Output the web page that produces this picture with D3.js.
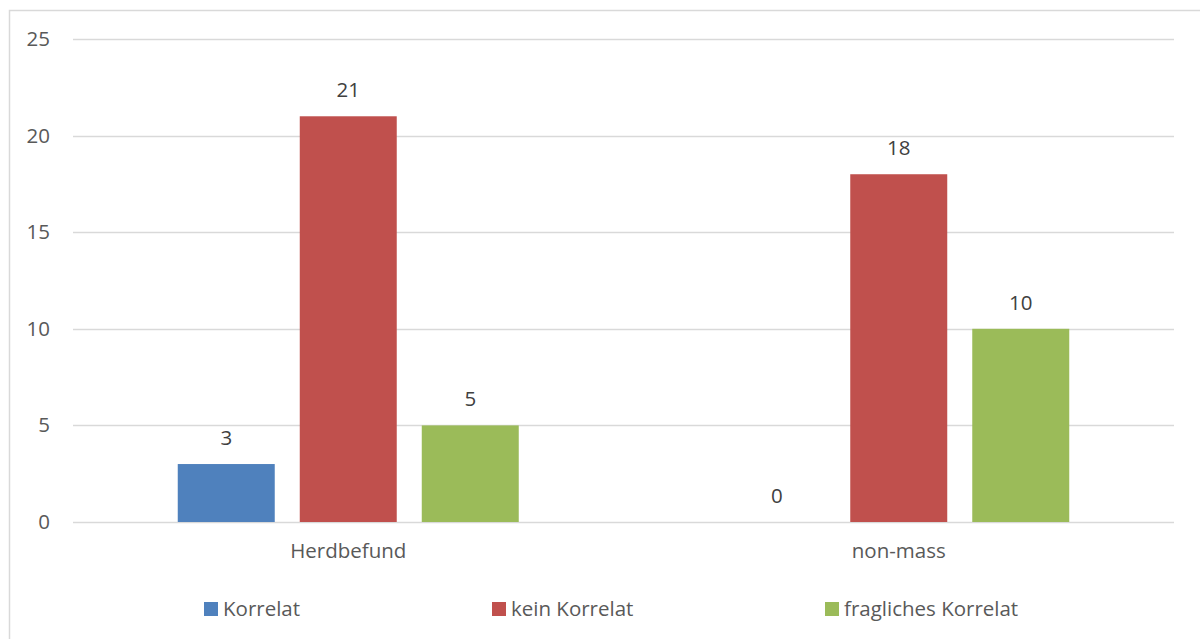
<!DOCTYPE html>
<html><head><meta charset="utf-8">
<script src="https://cdn.jsdelivr.net/npm/d3@7"></script>
<style>body{margin:0;background:#fff}svg{display:block}</style>
</head><body>
<svg id="c" width="1200" height="639"></svg>
<script>
const categories = ["Herdbefund", "non-mass"];
const seriesNames = ["Korrelat", "kein Korrelat", "fragliches Korrelat"];
const seriesColors = ["#4f81bd", "#c0504d", "#9bbb59"];
const korrelat = [3, 0];
const keinKorrelat = [21, 18];
const fraglichesKorrelat = [5, 10];
const yTicks = [0, 5, 10, 15, 20, 25];

(function() {
const values = [korrelat, keinKorrelat, fraglichesKorrelat];
const svg = d3.select("#c");
const font = "'Open Sans', sans-serif";
const fs = 20.5;
const txt = "#595959";

svg.append("rect").attr("x", 9.5).attr("y", 10.5).attr("width", 1200).attr("height", 640)
  .attr("fill", "#fff").attr("stroke", "#d9d9d9").attr("stroke-width", 1.5);

const pLeft = 73, pRight = 1174, pTop = 39, pBottom = 522;
const y = d3.scaleLinear().domain([0, 25]).range([pBottom, pTop]);
const x0 = d3.scaleBand().domain(categories).range([pLeft, pRight]).padding(0);
const x1 = d3.scaleBand().domain(seriesNames).range([-170.5, 170.5]).paddingInner(0.205).paddingOuter(0);

svg.append("g").selectAll("line").data(yTicks).join("line")
  .attr("x1", pLeft).attr("x2", pRight)
  .attr("y1", d => Math.round(y(d)) + 0.5).attr("y2", d => Math.round(y(d)) + 0.5)
  .attr("stroke", "#d9d9d9").attr("stroke-width", 1.5);

svg.append("g").selectAll("text").data(yTicks).join("text")
  .attr("x", 50).attr("y", d => y(d) + 7)
  .attr("text-anchor", "end").attr("font-family", font).attr("font-size", fs).attr("fill", txt)
  .text(d => d);

const groups = svg.append("g").selectAll("g").data(categories).join("g")
  .attr("transform", c => `translate(${x0(c) + x0.bandwidth() / 2},0)`);

groups.each(function(c, ci) {
  const g = d3.select(this);
  seriesNames.forEach((s, si) => {
    const v = values[si][ci];
    g.append("rect").attr("x", x1(s)).attr("width", x1.bandwidth())
      .attr("y", y(v)).attr("height", y(0) - y(v)).attr("fill", seriesColors[si]);
    g.append("text").attr("x", x1(s) + x1.bandwidth() / 2).attr("y", y(v) - 19)
      .attr("text-anchor", "middle").attr("font-family", font).attr("font-size", fs).attr("fill", "#404040")
      .text(v);
  });
  g.append("text").attr("x", 0).attr("y", 558).attr("text-anchor", "middle")
    .attr("font-family", font).attr("font-size", fs).attr("fill", txt).text(c);
});

const legendX = [204, 492, 825];
const leg = svg.append("g").selectAll("g").data(seriesNames).join("g")
  .attr("transform", (d, i) => `translate(${legendX[i]},602)`);
leg.append("rect").attr("width", 14).attr("height", 14).attr("fill", (d, i) => seriesColors[i]);
leg.append("text").attr("x", 19).attr("y", 14).attr("font-family", font).attr("font-size", fs)
  .attr("fill", txt).text(d => d);
})();
</script>
</body></html>
